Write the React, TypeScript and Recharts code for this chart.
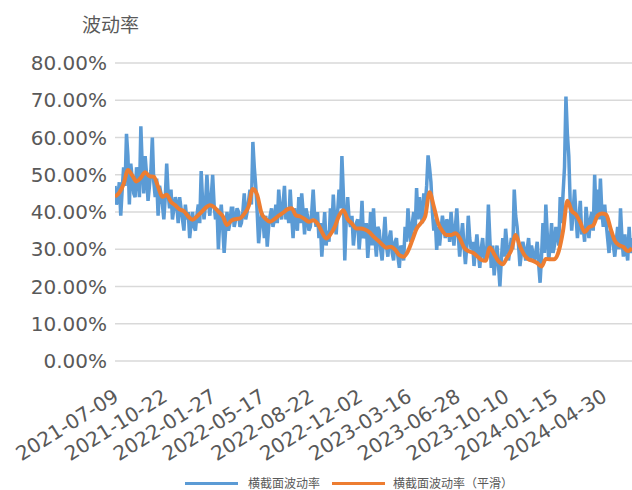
import React from 'react';
import { LineChart, Line, XAxis, YAxis, CartesianGrid } from 'recharts';

// labels shown on the date axis, one every LABEL_EVERY trading days
const dateLabels = [
  '2021-07-09', '2021-10-22', '2022-01-27', '2022-05-17', '2022-08-22', '2022-12-02',
  '2023-03-16', '2023-06-28', '2023-10-10', '2024-01-15', '2024-04-30',
];
const LABEL_EVERY = 68;
const LAST_DAY = 720;

// cross-sectional volatility (%), one reading every VOL_STEP trading days
const VOL_STEP = 2;
const volatility = [
  47, 42, 44, 48, 39, 46, 52, 47, 61, 55,
  42, 53, 49, 45, 44, 52, 50, 44, 63, 52,
  45, 55, 50, 43, 47, 51, 60, 48, 44, 49,
  39, 47, 45, 42, 38, 44, 53, 45, 41, 46,
  38, 41, 44, 42, 37, 44, 41, 38, 35, 42,
  38, 40, 33, 37, 40, 36, 35, 39, 42, 37,
  51, 43, 38, 42, 50, 43, 39, 44, 50, 42,
  38, 41, 30, 38, 42, 36, 29, 35, 40, 35,
  37, 41, 41, 36, 38, 41, 40, 36, 37, 40,
  45, 38, 40, 43, 46, 42, 58.8, 52, 47, 40,
  31.6, 36, 40, 38, 33, 39, 30.7, 36, 39, 41,
  36, 38, 42, 37, 46, 41, 38, 42, 47, 38,
  41, 37, 46, 39, 33, 41, 37, 35, 44, 37,
  45, 40, 34, 41, 39, 35, 36, 40, 46, 39,
  36, 40, 33, 37, 28, 34, 40, 31, 35, 32,
  41, 35, 44.7, 38, 34, 40, 46, 41, 55, 45,
  27, 38, 44, 38, 36, 39, 31, 35, 37, 38,
  30, 35, 43, 33, 34, 37, 27.7, 33, 40, 31,
  41, 33, 28, 36, 35, 30, 27, 33, 38.7, 31,
  28, 33, 35, 29, 27, 32, 33, 28, 25, 31,
  30, 27, 36, 32, 41, 35, 32, 37, 40, 35,
  46.4, 38, 44, 40, 37, 45, 42, 47, 55.2, 52,
  48, 40, 35, 38, 29.8, 36, 31, 35, 39, 36,
  33, 38, 37, 32, 40, 35, 31, 36, 41, 34,
  28, 33, 37, 31, 26, 31, 39, 33, 30, 32,
  25.5, 30, 34, 29, 25, 30, 33, 28, 27, 31,
  42, 33, 25, 31, 23, 27, 31, 26, 20, 27,
  33, 28, 35.5, 31, 27, 30, 33, 30, 46, 39,
  36, 31, 25.5, 29, 32, 30, 27, 30, 33, 27,
  31, 29, 27, 29, 32, 26, 21, 28, 37, 29,
  42, 34, 27, 31, 37, 29, 31, 36, 34, 31,
  44, 37, 45, 52, 71, 61, 55, 42, 35, 40,
  46, 39, 33, 38, 43, 34, 36, 32, 41.4, 37,
  33, 38, 40, 35, 50, 39, 46, 38, 49, 40,
  36, 42, 37, 33, 29, 35, 34, 31, 28, 32,
  36, 30, 41, 33, 28, 34, 30, 27, 36, 29,
  33,
];

// smoothed volatility (%), one reading every SMOOTH_STEP trading days
const SMOOTH_STEP = 6;
const smoothed = [
  44.1, 45.2, 47.5, 51.3, 49.8, 48.2, 49.2, 50.7, 49.6, 49.5,
  46.8, 44.1, 44.6, 42.7, 41.8, 40.7, 40.2, 38.8, 37.9, 38.8,
  39.9, 41.1, 41.8, 41.3, 40.1, 38.9, 36.5, 37.7, 38.1, 38.3,
  39.5, 41.5, 46.2, 44.6, 39.7, 38.1, 37.4, 38.1, 39, 39.8,
  40.7, 41, 39.1, 38.8, 38.1, 37.4, 37.8, 36.9, 34.7, 32.9,
  34, 36, 39, 40.5, 38.1, 36.9, 35.6, 35.6, 35.3, 34.6,
  33.4, 32.4, 31.3, 30.4, 30.7, 29.9, 28.4, 28, 29.5, 32.4,
  35.5, 37, 38.8, 45.3, 41.5, 37, 34.9, 33.8, 33.8, 34.3,
  33, 30.5, 29.5, 29.1, 28.2, 27.2, 26.9, 30.5, 28.7, 26.8,
  26, 27.8, 29.8, 33.8, 30.8, 28.5, 27.3, 26.9, 26.3, 25.4,
  27.4, 27.3, 27.3, 29.5, 35, 43, 40.3, 39.3, 37.2, 34.6,
  35.9, 36.4, 39, 39.6, 39.3, 35.7, 32.3, 31.1, 30.6, 29.5,
  30.3,
];

const yTicks = [0, 0.1, 0.2, 0.3, 0.4, 0.5, 0.6, 0.7, 0.8];

const volData = volatility.map((v, i) => ({ day: i * VOL_STEP, value: v / 100 }));
const smoothData = smoothed.map((v, i) => ({ day: i * SMOOTH_STEP, value: v / 100 }));
const xTicks = dateLabels.map((_, i) => i * LABEL_EVERY);

const BLUE = '#5b9bd5';
const ORANGE = '#ed7d31';
const TEXT = '#595959';
const LATIN = "'DejaVu Sans', sans-serif";
const CJK = "'Noto Sans CJK SC', sans-serif";

const DateTick = ({ x, y, payload }: any) => {
  const label = dateLabels[Math.round(payload.value / LABEL_EVERY)];
  const ax = x + 5;
  const ay = y + 31;
  return (
    <text
      x={ax}
      y={ay}
      transform={`rotate(-32, ${ax}, ${ay})`}
      textAnchor="end"
      fill={TEXT}
      fontSize={20}
      fontFamily={LATIN}
    >
      {label}
    </text>
  );
};

const LegendItem = ({ color, label, gap }: { color: string; label: string; gap: number }) => (
  <div style={{ display: 'flex', alignItems: 'center', marginRight: 12 }}>
    <div style={{ width: 53, height: 3, background: color }} />
    <span style={{ marginLeft: gap }}>{label}</span>
  </div>
);

export default function App() {
  return (
    <div style={{ position: 'absolute', left: 0, top: 0, width: 632, height: 490, overflow: 'hidden', background: '#fff' }}>
      <div style={{ position: 'absolute', left: 82, top: 13, fontFamily: CJK, fontSize: 19, lineHeight: '22px', color: TEXT }}>
        波动率
      </div>
      <LineChart width={632} height={490} margin={{ top: 63, right: 0, bottom: 69, left: 0 }}>
        <CartesianGrid vertical={false} stroke="#d9d9d9" strokeWidth={1.5} />
        <XAxis
          type="number"
          dataKey="day"
          domain={[0, LAST_DAY]}
          ticks={xTicks}
          interval={0}
          axisLine={false}
          tickLine={false}
          height={60}
          tick={<DateTick />}
          allowDataOverflow
        />
        <YAxis
          width={115}
          domain={[0, 0.8]}
          ticks={yTicks}
          interval={0}
          axisLine={false}
          tickLine={false}
          tickFormatter={(v: number) => (v * 100).toFixed(2) + '%'}
          tick={{ fill: TEXT, fontSize: 20, fontFamily: LATIN }}
        />
        <Line
          data={volData}
          dataKey="value"
          type="linear"
          stroke={BLUE}
          strokeWidth={3.5}
          dot={false}
          isAnimationActive={false}
        />
        <Line
          data={smoothData}
          dataKey="value"
          type="monotone"
          stroke={ORANGE}
          strokeWidth={4}
          dot={false}
          isAnimationActive={false}
        />
      </LineChart>
      <div
        style={{
          position: 'absolute',
          left: 185,
          top: 475,
          display: 'flex',
          fontFamily: CJK,
          fontSize: 12,
          lineHeight: '16px',
          color: TEXT,
        }}
      >
        <LegendItem color={BLUE} label="横截面波动率" gap={10} />
        <LegendItem color={ORANGE} label="横截面波动率（平滑）" gap={8} />
      </div>
    </div>
  );
}
